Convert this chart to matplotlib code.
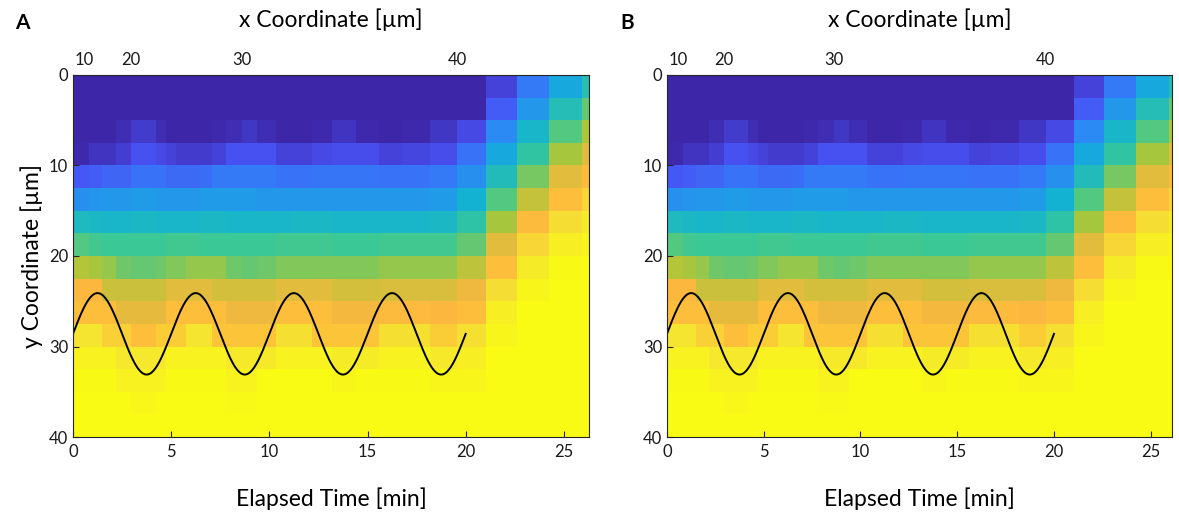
import matplotlib
matplotlib.use("Agg")
import matplotlib.pyplot as plt
import numpy as np
from matplotlib.colors import LinearSegmentedColormap

plt.rcParams["font.family"] = ["Lato", "DejaVu Sans"]

# parula-like colormap anchors
parula_pts = [
    (0.000, (0.2422, 0.1504, 0.6603)),
    (0.125, (0.2810, 0.3228, 0.9579)),
    (0.250, (0.1786, 0.5289, 0.9682)),
    (0.375, (0.0689, 0.6948, 0.8394)),
    (0.500, (0.2161, 0.7843, 0.5923)),
    (0.625, (0.6720, 0.7793, 0.2227)),
    (0.740, (0.9850, 0.7150, 0.2450)),
    (0.800, (0.9900, 0.7700, 0.2200)),
    (0.875, (0.9598, 0.8870, 0.1957)),
    (1.000, (0.9769, 0.9839, 0.0805)),
]
parula = LinearSegmentedColormap.from_list("parula", parula_pts)

# column edges (elapsed time, min) and row edges (y coordinate, um)
time_edges = [0, 0.81, 1.49, 2.17, 2.94, 3.6, 4.21, 4.72, 5.23, 5.74, 6.4, 7.1,
              7.78, 8.62, 9.39, 10.32, 11.2, 12.19, 13.2, 14.4, 15.59, 16.77,
              18.2, 19.57, 21.02, 22.59, 24.23, 25.94, 27.6]
y_edges = [0, 2.5, 5, 7.5, 10, 12.5, 15, 17.5, 20, 22.5, 25, 27.5, 30, 32.5,
           35, 37.5, 40]

# top axis: x coordinate ticks placed at elapsed time
x_coord_labels = [10, 20, 30, 40]
x_coord_at_time = [0.58, 2.94, 8.62, 19.57]

# normalised intensity, one list per row (top to bottom)
intensity = [
    [0, 0, 0, 0, 0, 0, 0, 0, 0, 0, 0, 0, 0, 0, 0, 0, 0, 0, 0, 0, 0, 0, 0, 0, 0.08, 0.22, 0.35, 0.45],
    [0, 0, 0, 0, 0, 0, 0, 0, 0, 0, 0, 0, 0, 0, 0, 0, 0, 0, 0, 0, 0, 0, 0, 0, 0.15, 0.30, 0.44, 0.55],
    [0, 0, 0, 0.02, 0.06, 0.06, 0.02, 0, 0, 0, 0, 0.01, 0.02, 0.05, 0.02, 0, 0, 0.01, 0.04, 0.01, 0, 0.01, 0.05, 0.10, 0.26, 0.40, 0.53, 0.63],
    [0.01, 0.04, 0.04, 0.07, 0.12, 0.12, 0.10, 0.08, 0.06, 0.06, 0.06, 0.08, 0.12, 0.12, 0.12, 0.08, 0.08, 0.10, 0.11, 0.11, 0.08, 0.09, 0.11, 0.20, 0.35, 0.48, 0.62, 0.70],
    [0.14, 0.15, 0.17, 0.17, 0.20, 0.20, 0.20, 0.18, 0.18, 0.18, 0.19, 0.22, 0.22, 0.22, 0.22, 0.20, 0.20, 0.21, 0.21, 0.21, 0.20, 0.20, 0.22, 0.28, 0.43, 0.57, 0.70, 0.76],
    [0.28, 0.29, 0.30, 0.30, 0.31, 0.31, 0.30, 0.30, 0.30, 0.30, 0.31, 0.31, 0.31, 0.31, 0.30, 0.30, 0.30, 0.30, 0.30, 0.30, 0.30, 0.30, 0.31, 0.38, 0.53, 0.66, 0.77, 0.84],
    [0.42, 0.41, 0.40, 0.40, 0.41, 0.41, 0.40, 0.40, 0.40, 0.40, 0.41, 0.41, 0.40, 0.40, 0.40, 0.40, 0.41, 0.41, 0.40, 0.40, 0.40, 0.40, 0.41, 0.47, 0.62, 0.76, 0.86, 0.92],
    [0.53, 0.51, 0.50, 0.50, 0.50, 0.50, 0.50, 0.51, 0.51, 0.51, 0.50, 0.50, 0.50, 0.50, 0.50, 0.51, 0.51, 0.51, 0.50, 0.50, 0.51, 0.51, 0.51, 0.55, 0.70, 0.84, 0.93, 0.97],
    [0.64, 0.62, 0.60, 0.56, 0.55, 0.55, 0.56, 0.58, 0.58, 0.60, 0.60, 0.60, 0.56, 0.55, 0.56, 0.58, 0.58, 0.58, 0.58, 0.58, 0.60, 0.60, 0.60, 0.65, 0.77, 0.92, 0.99, 1.0],
    [0.74, 0.74, 0.67, 0.67, 0.67, 0.67, 0.67, 0.70, 0.70, 0.70, 0.70, 0.68, 0.68, 0.68, 0.68, 0.70, 0.70, 0.70, 0.68, 0.68, 0.69, 0.69, 0.69, 0.72, 0.86, 0.97, 1.0, 1.0],
    [0.77, 0.77, 0.77, 0.71, 0.71, 0.71, 0.71, 0.77, 0.77, 0.77, 0.77, 0.77, 0.72, 0.72, 0.72, 0.77, 0.77, 0.77, 0.73, 0.73, 0.76, 0.76, 0.74, 0.77, 0.93, 1.0, 1.0, 1.0],
    [0.88, 0.88, 0.83, 0.83, 0.77, 0.77, 0.82, 0.82, 0.82, 0.88, 0.88, 0.80, 0.80, 0.80, 0.80, 0.87, 0.87, 0.80, 0.80, 0.80, 0.87, 0.87, 0.82, 0.87, 0.97, 1.0, 1.0, 1.0],
    [0.95, 0.95, 0.95, 0.90, 0.90, 0.90, 0.90, 0.95, 0.95, 0.95, 0.95, 0.95, 0.91, 0.91, 0.91, 0.95, 0.95, 0.95, 0.92, 0.92, 0.95, 0.95, 0.91, 0.93, 1.0, 1.0, 1.0, 1.0],
    [0.99, 0.99, 0.99, 0.95, 0.95, 0.95, 0.95, 0.99, 0.99, 0.99, 0.99, 0.99, 0.96, 0.96, 1.0, 1.0, 1.0, 1.0, 0.97, 0.99, 0.99, 0.99, 0.97, 0.97, 1.0, 1.0, 1.0, 1.0],
    [1.0, 1.0, 1.0, 1.0, 0.98, 0.98, 1.0, 1.0, 1.0, 1.0, 1.0, 1.0, 0.985, 0.985, 1.0, 1.0, 1.0, 1.0, 1.0, 1.0, 1.0, 1.0, 1.0, 1.0, 1.0, 1.0, 1.0, 1.0],
    [1.0] * 28,
]

# fitted oscillation overlay
osc_center = 28.6
osc_amp = 4.5
osc_period = 5.0
osc_end = 20.0

panels = [
    {"tag": "A", "rect": [73 / 1179, 81 / 518, 516 / 1179, 362 / 518], "xmax": 26.28, "ylabel": True},
    {"tag": "B", "rect": [667 / 1179, 81 / 518, 505 / 1179, 362 / 518], "xmax": 26.1, "ylabel": False},
]

fig = plt.figure(figsize=(11.79, 5.18), dpi=100)
edge_col = "#262626"

for p in panels:
    ax = fig.add_axes(p["rect"])
    ax.pcolormesh(time_edges, y_edges, np.array(intensity), cmap=parula,
                  vmin=0, vmax=1, shading="flat", antialiased=False,
                  linewidth=0, rasterized=True)
    t = np.linspace(0, osc_end, 400)
    ax.plot(t, osc_center - osc_amp * np.sin(2 * np.pi * t / osc_period),
            color="black", lw=1.4)
    ax.set_xlim(0, p["xmax"])
    ax.set_ylim(40, 0)
    ax.set_xticks([0, 5, 10, 15, 20, 25])
    ax.set_yticks([0, 10, 20, 30, 40])
    ax.tick_params(direction="in", length=4, width=0.8, labelsize=12,
                   colors=edge_col, labelcolor="#1a1a1a")
    ax.tick_params(axis="x", pad=5)
    for s in ax.spines.values():
        s.set_color(edge_col)
        s.set_linewidth(0.8)
    ax.set_xlabel("Elapsed Time [min]", fontsize=16.5, labelpad=20)
    if p["ylabel"]:
        ax.set_ylabel("y Coordinate [µm]", fontsize=16.5, labelpad=4)

    top = ax.secondary_xaxis("top")
    top.set_xticks(x_coord_at_time)
    top.set_xticklabels([str(v) for v in x_coord_labels])
    top.tick_params(direction="in", length=4, width=0.8, labelsize=12,
                    colors=edge_col, labelcolor="#1a1a1a", pad=5)
    top.spines["top"].set_visible(False)
    top.set_xlabel("x Coordinate [µm]", fontsize=16.5, labelpad=18)

fig.text(22 / 1179, 1 - 23 / 518, "A", fontsize=15, fontweight="bold",
         ha="center", va="center")
fig.text(627 / 1179, 1 - 23 / 518, "B", fontsize=15, fontweight="bold",
         ha="center", va="center")

fig.savefig("out.png", dpi=100)
